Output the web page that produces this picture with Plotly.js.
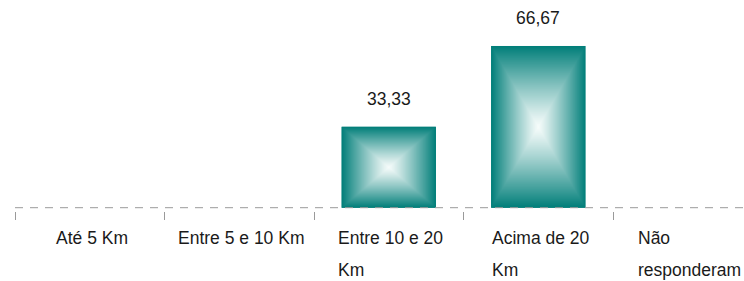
<!DOCTYPE html>
<html>
<head>
<meta charset="utf-8">
<script src="https://cdn.plot.ly/plotly-3.0.1.min.js"></script>
<style>
  html, body { margin: 0; padding: 0; background: #ffffff; }
  #chart { width: 744px; height: 281px; }
</style>
</head>
<body>
<div id="chart"></div>
<script>
// ---- data ----
const categories = ["Até 5 Km", "Entre 5 e 10 Km", "Entre 10 e 20 Km", "Acima de 20 Km", "Não responderam"];
const tickLabelLines = [["Até 5 Km"], ["Entre 5 e 10 Km"], ["Entre 10 e 20", "Km"], ["Acima de 20", "Km"], ["Não", "responderam"]];
const values = [0, 0, 33.33, 66.67, 0];

// ---- style ----
const FONT = "Liberation Sans, Arial, sans-serif";
const FS = 17.5;
const BAR_W = 0.63;
const TEAL = [0, 126, 121];
const CENTER = [246, 252, 251];

function gradientSource(n) {
  const c = document.createElement('canvas');
  c.width = n; c.height = n;
  const ctx = c.getContext('2d');
  const img = ctx.createImageData(n, n);
  const h = n / 2;
  for (let y = 0; y < n; y++) {
    for (let x = 0; x < n; x++) {
      const t0 = Math.max(Math.abs(x + 0.5 - h) / h, Math.abs(y + 0.5 - h) / h);
      const t = Math.pow(t0, 1.15);
      const k = (y * n + x) * 4;
      for (let j = 0; j < 3; j++) img.data[k + j] = Math.round(CENTER[j] + (TEAL[j] - CENTER[j]) * t);
      img.data[k + 3] = 255;
    }
  }
  ctx.putImageData(img, 0, 0);
  return c.toDataURL();
}

function textWidth(s) {
  const c = document.createElement('canvas').getContext('2d');
  c.font = FS + "px 'Liberation Sans', Arial, sans-serif";
  return c.measureText(s).width;
}

const xs = categories.map((_, i) => i);
const src = gradientSource(240);

const images = [];
const annotations = [];
values.forEach((v, i) => {
  if (v > 0) {
    images.push({
      source: src, xref: 'x', yref: 'y', x: i, y: v, sizex: BAR_W, sizey: v,
      xanchor: 'center', yanchor: 'top', sizing: 'stretch', layer: 'above'
    });
    annotations.push({
      xref: 'x', yref: 'y', x: i, y: v, text: v.toFixed(2).replace('.', ','),
      showarrow: false, xanchor: 'center', yanchor: 'bottom', yshift: 16,
      font: { family: FONT, size: FS, color: '#1a1a1a' }
    });
  }
});

tickLabelLines.forEach((lines, i) => {
  const w = Math.max(...lines.map(textWidth));
  lines.forEach((line, j) => {
    annotations.push({
      xref: 'x', yref: 'paper', x: i, y: 0, text: line,
      showarrow: false, xanchor: 'left', yanchor: 'top',
      xshift: -w / 2, yshift: -15 - j * 32,
      font: { family: FONT, size: FS, color: '#1a1a1a' }
    });
  });
});

const trace = {
  type: 'bar', x: xs, y: values, width: BAR_W,
  marker: { color: 'rgb(0,126,121)', line: { width: 0 } },
  hoverinfo: 'skip'
};

const tickvals = categories.map((_, i) => i - 0.5).concat([categories.length - 0.5]);

const layout = {
  width: 744, height: 281,
  margin: { l: 15, r: 0, t: 10, b: 70, pad: 0 },
  paper_bgcolor: '#ffffff', plot_bgcolor: '#ffffff',
  showlegend: false,
  font: { family: FONT, size: FS, color: '#1a1a1a' },
  xaxis: {
    range: [-0.5, 4.376], showgrid: false, zeroline: false, showline: false,
    tickmode: 'array', tickvals: tickvals, showticklabels: false,
    ticks: 'outside', ticklen: 8, tickwidth: 1, tickcolor: '#9a9a9a', fixedrange: true
  },
  yaxis: {
    range: [-1.36, 81.51], showgrid: false, zeroline: false, showline: false,
    showticklabels: false, ticks: '', fixedrange: true
  },
  shapes: [{
    type: 'line', xref: 'paper', x0: 0, x1: 1, yref: 'y', y0: 0, y1: 0,
    line: { color: '#9a9a9a', width: 1, dash: '8px,7px' }, layer: 'above'
  }],
  images: images,
  annotations: annotations,
  hovermode: false
};

Plotly.newPlot('chart', [trace], layout, { staticPlot: true, displayModeBar: false });
</script>
</body>
</html>
